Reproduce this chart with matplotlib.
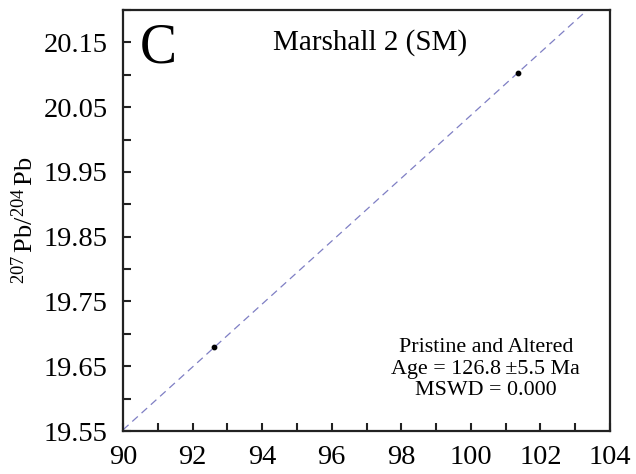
import matplotlib.pyplot as plt
from matplotlib.ticker import MultipleLocator
import numpy as np

plt.rcParams['font.family'] = ['Liberation Serif', 'DejaVu Serif']
plt.rcParams['mathtext.fontset'] = 'custom'
plt.rcParams['mathtext.rm'] = 'Liberation Serif'
plt.rcParams['mathtext.it'] = 'Liberation Serif:italic'
plt.rcParams['mathtext.bf'] = 'Liberation Serif:bold'

pb206 = [92.62, 101.35]
pb207 = [19.679, 20.103]
line_x = [90.0, 104.0]

fig = plt.figure(figsize=(6.36, 4.74), dpi=100)
ax = fig.add_axes([123 / 636, 1 - 431 / 474, 487 / 636, 421 / 474])

# isochron through the two points
slope = (pb207[1] - pb207[0]) / (pb206[1] - pb206[0])
fit_y = [pb207[0] + slope * (x - pb206[0]) for x in line_x]
ax.plot(line_x, fit_y, linestyle=(0, (6, 4)), color="#7f7fc4", linewidth=0.9)
ax.scatter(pb206, pb207, s=10, color="black", zorder=3)

ax.set_xlim(90, 104)
ax.set_ylim(19.55, 20.20)
ax.set_xticks(np.arange(90, 105, 2))
ax.set_yticks([19.55, 19.65, 19.75, 19.85, 19.95, 20.05, 20.15])
ax.set_yticklabels(["19.55", "19.65", "19.75", "19.85", "19.95", "20.05", "20.15"])
ax.xaxis.set_minor_locator(MultipleLocator(1))
ax.yaxis.set_minor_locator(MultipleLocator(0.05))
ax.tick_params(which="both", direction="in", top=False, right=False, labelsize=20.5, width=1.5, color="#222222")
ax.tick_params(which="both", length=6)
ax.tick_params(axis="x", pad=10)
ax.tick_params(axis="y", pad=11)
for s in ax.spines.values():
    s.set_linewidth(1.6)
    s.set_color("#222222")

ax.set_ylabel(r"$\mathregular{^{207}\,}$Pb/$\mathregular{^{204}\,}$Pb", fontsize=19, labelpad=4)

ax.text(0.035, 0.97, "C", transform=ax.transAxes, fontsize=40, va="top", ha="left")
ax.text(0.507, 0.955, "Marshall 2 (SM)", transform=ax.transAxes, fontsize=21, va="top", ha="center")
ax.text(0.745, 0.147, "Pristine and Altered\nAge = 126.8\u2009±5.5 Ma\nMSWD = 0.000",
        transform=ax.transAxes, fontsize=15.8, va="center", ha="center", linespacing=1.2)

fig.savefig("out.png", dpi=100)
